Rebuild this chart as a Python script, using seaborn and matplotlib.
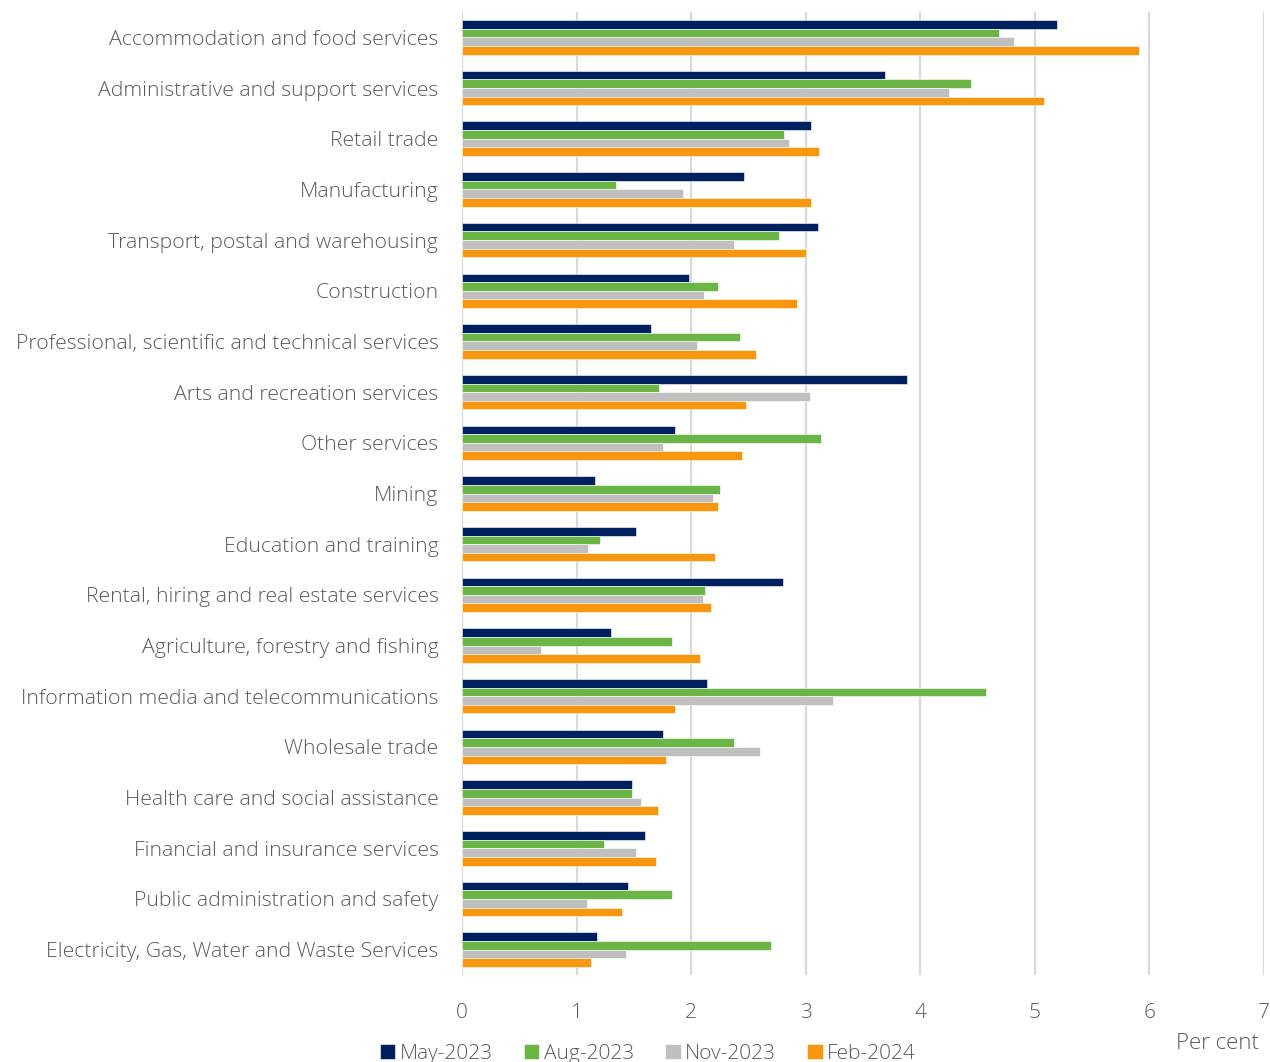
import pandas as pd
import matplotlib.pyplot as plt
import seaborn as sns

industries = [
    'Accommodation and food services',
    'Administrative and support services',
    'Retail trade',
    'Manufacturing',
    'Transport, postal and warehousing',
    'Construction',
    'Professional, scientific and technical services',
    'Arts and recreation services',
    'Other services',
    'Mining',
    'Education and training',
    'Rental, hiring and real estate services',
    'Agriculture, forestry and fishing',
    'Information media and telecommunications',
    'Wholesale trade',
    'Health care and social assistance',
    'Financial and insurance services',
    'Public administration and safety',
    'Electricity, Gas, Water and Waste Services',
]
periods = ['May-2023', 'Aug-2023', 'Nov-2023', 'Feb-2024']

may_2023 = [5.19, 3.69, 3.05, 2.46, 3.11, 1.98, 1.65, 3.88, 1.86, 1.16,
            1.52, 2.80, 1.30, 2.14, 1.75, 1.48, 1.60, 1.45, 1.18]
aug_2023 = [4.69, 4.44, 2.81, 1.34, 2.77, 2.23, 2.43, 1.72, 3.13, 2.25,
            1.20, 2.12, 1.83, 4.57, 2.37, 1.48, 1.24, 1.83, 2.70]
nov_2023 = [4.82, 4.25, 2.85, 1.93, 2.37, 2.11, 2.05, 3.04, 1.75, 2.19,
            1.10, 2.10, 0.69, 3.24, 2.60, 1.56, 1.52, 1.09, 1.43]
feb_2024 = [5.91, 5.08, 3.12, 3.05, 3.00, 2.92, 2.57, 2.48, 2.44, 2.23,
            2.21, 2.17, 2.08, 1.86, 1.78, 1.71, 1.69, 1.40, 1.13]

colours = ['#002060', '#6ab545', '#bfbfbf', '#f7960f']

# long format for seaborn
df = pd.DataFrame({
    'industry': industries * 4,
    'period': [p for p in periods for _ in industries],
    'value': may_2023 + aug_2023 + nov_2023 + feb_2024,
})

sns.set_style('white')
plt.rcParams['font.family'] = ['Open Sans', 'DejaVu Sans']
text_col = '#595959'

fig = plt.figure(figsize=(12.7, 10.62), dpi=100)
ax = fig.add_axes([0.3638, 0.0819, 0.6315, 0.9068])

sns.barplot(data=df, y='industry', x='value', hue='period', order=industries,
            hue_order=periods, palette=colours, saturation=1, orient='h',
            width=0.68, edgecolor='white', linewidth=0.4, ax=ax, legend=True)

ax.set_xlim(0, 7)
ax.set_ylim(18.5, -0.5)
ax.set_xticks(range(8))
ax.xaxis.grid(True, color='#d9d9d9', linewidth=1.6)
ax.set_axisbelow(True)
for s in ax.spines.values():
    s.set_visible(False)
ax.set_xlabel('')
ax.set_ylabel('')
ax.tick_params(axis='y', length=0, pad=17, labelsize=15.3, labelcolor=text_col)
ax.tick_params(axis='x', length=0, pad=20, labelsize=15, labelcolor=text_col)
for t in ax.get_xticklabels() + ax.get_yticklabels():
    t.set_fontweight('light')

handles, labels = ax.get_legend_handles_labels()
ax.legend_.remove()
leg = fig.legend(handles, labels, loc='center', bbox_to_anchor=(0.51, 0.008),
                 ncol=4, frameon=False, fontsize=15, handlelength=0.75,
                 handleheight=0.75, handletextpad=0.2, columnspacing=1.5)
for t in leg.get_texts():
    t.set_color(text_col)
    t.set_fontweight('light')

fig.text(0.991, 0.017, 'Per cent', ha='right', va='center', fontsize=16,
         color=text_col, fontweight='light')

fig.savefig('out.png', dpi=100)
